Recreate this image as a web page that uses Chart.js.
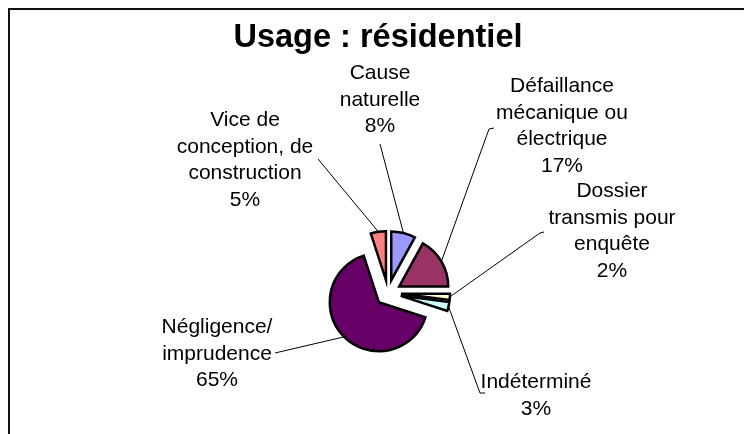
<!DOCTYPE html>
<html>
<head>
<meta charset="utf-8">
<script src="https://cdn.jsdelivr.net/npm/chart.js@4/dist/chart.umd.min.js"></script>
<style>
  html, body { margin: 0; padding: 0; background: #fff; overflow: hidden; }
  #wrap { position: relative; width: 744px; height: 434px; }
  #frame { position: absolute; left: 8px; top: 8px; width: 800px; height: 500px; border: 2px solid #111; box-sizing: border-box; }
  canvas { position: absolute; left: 0; top: 0; }
</style>
</head>
<body>
<div id="wrap">
  <div id="frame"></div>
  <canvas id="pie" width="744" height="434"></canvas>
</div>
<script>
// data, clockwise from 12 o'clock
var categories = ["Cause naturelle", "Défaillance mécanique ou électrique", "Dossier transmis pour enquête", "Indéterminé", "Négligence/ imprudence", "Vice de conception, de construction"];
var values = [8, 17, 2, 3, 65, 5];
var labelLines = [
  ["Cause", "naturelle", "8%"],
  ["Défaillance", "mécanique ou", "électrique", "17%"],
  ["Dossier", "transmis pour", "enquête", "2%"],
  ["Indéterminé", "3%"],
  ["Négligence/", "imprudence", "65%"],
  ["Vice de", "conception, de", "construction", "5%"]
];
var colors = ["#9999FF", "#993366", "#FFFFCC", "#CCFFFF", "#660066", "#FF8080"];

// label placement (text centre x, first baseline y) and leader end points
var labelPos = [[380, 79], [562, 92], [612, 197], [536, 388], [217, 333], [245, 126]];
var leaderEnd = [
  [[380, 144]],
  [[489, 129], [494, 128]],
  [[540, 233], [544, 232]],
  [[480, 393], [485, 393]],
  [[275, 353]],
  [[318, 159]]
];
var lineH = 26.5;
var explode = 13;

// pull every slice outward by a fixed distance (Chart.js' own offset also grows the radius)
var explodePlugin = {
  id: "explode",
  beforeDatasetDraw: function (chart, args) {
    var ctx = chart.ctx;
    args.meta.data.forEach(function (a) {
      var mid = (a.startAngle + a.endAngle) / 2;
      ctx.save();
      ctx.translate(Math.cos(mid) * explode, Math.sin(mid) * explode);
      a.draw(ctx, chart.chartArea);
      ctx.restore();
    });
    return false;
  }
};

var labelsPlugin = {
  id: "pieLabels",
  afterDraw: function (chart) {
    var ctx = chart.ctx;
    var arcs = chart.getDatasetMeta(0).data;
    ctx.save();
    // title
    ctx.fillStyle = "#000";
    ctx.textAlign = "center";
    ctx.textBaseline = "alphabetic";
    ctx.font = "bold 32.5px 'Liberation Sans', Arial, sans-serif";
    ctx.fillText("Usage : résidentiel", 378, 47);
    // leader lines
    ctx.strokeStyle = "#000";
    ctx.lineWidth = 1;
    arcs.forEach(function (a, i) {
      var mid = (a.startAngle + a.endAngle) / 2;
      var ax = a.x + Math.cos(mid) * (explode + a.outerRadius);
      var ay = a.y + Math.sin(mid) * (explode + a.outerRadius);
      ctx.beginPath();
      ctx.moveTo(ax, ay);
      leaderEnd[i].forEach(function (q) { ctx.lineTo(q[0], q[1]); });
      ctx.stroke();
    });
    // labels
    ctx.font = "21px 'Liberation Sans', Arial, sans-serif";
    labelLines.forEach(function (lines, i) {
      lines.forEach(function (t, j) {
        ctx.fillText(t, labelPos[i][0], labelPos[i][1] + j * lineH);
      });
    });
    ctx.restore();
  }
};

new Chart(document.getElementById("pie").getContext("2d"), {
  type: "pie",
  data: {
    labels: categories,
    datasets: [{
      data: values,
      backgroundColor: colors,
      borderColor: "#000",
      borderWidth: 2.5,
      borderJoinStyle: "miter",
      offset: 0,
      hoverOffset: 0,
      radius: 49
    }]
  },
  options: {
    responsive: false,
    animation: false,
    events: [],
    layout: { padding: { left: 288, right: 256, top: 193, bottom: 41 } },
    plugins: {
      legend: { display: false },
      title: { display: false },
      tooltip: { enabled: false }
    }
  },
  plugins: [explodePlugin, labelsPlugin]
});
</script>
</body>
</html>
